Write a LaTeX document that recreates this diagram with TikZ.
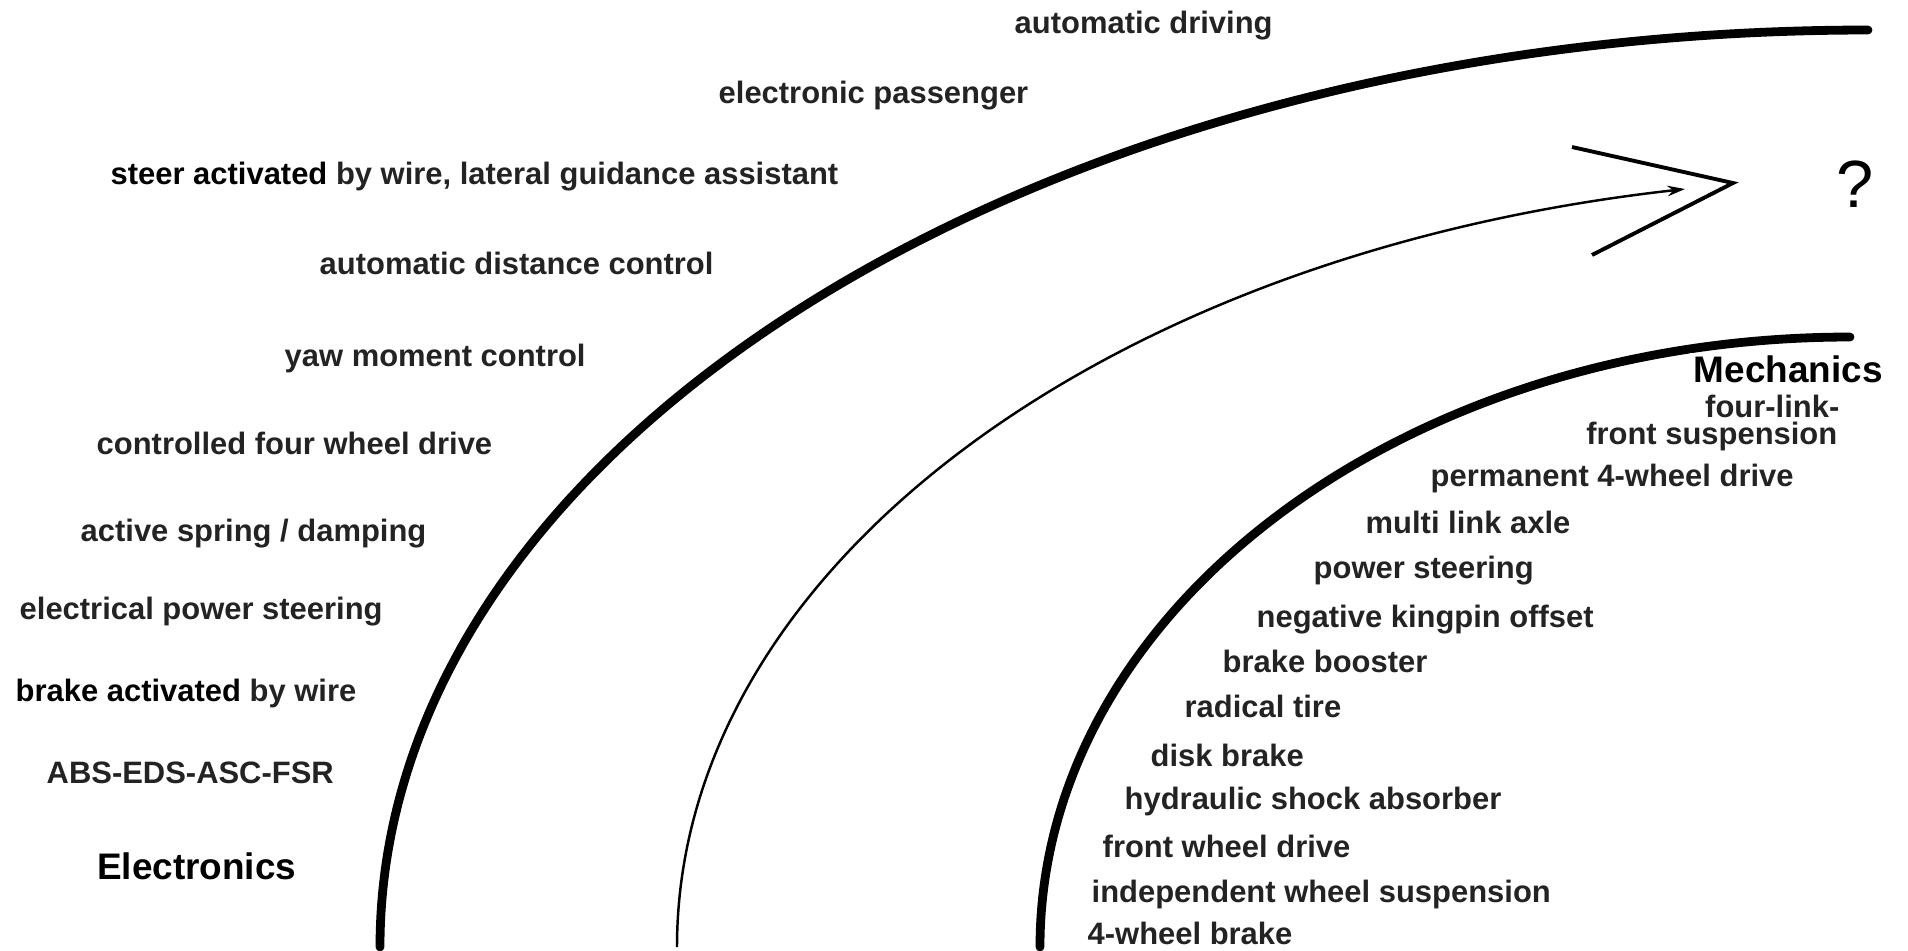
\documentclass[tikz,border=0pt]{standalone}
\usepackage{fontspec}
\setmainfont{Liberation Sans}
\usepackage{tikz}
\usetikzlibrary{arrows.meta}
\usepackage{xcolor}
\definecolor{ColText}{RGB}{35,35,35}
\tikzstyle{Item}=[anchor=west,inner sep=0pt,text height=0.72em,text depth=0.2em,
text=ColText,font=\bfseries\fontsize{8.8pt}{10pt}\selectfont]
\tikzstyle{ItemRight}=[Item,anchor=east]
\tikzstyle{Title}=[inner sep=1pt,text height=0.72em,text depth=0.2em,
font=\bfseries\fontsize{10.5pt}{12pt}\selectfont]
\tikzstyle{CurveThick}=[line width=2.5pt,line cap=round]
\tikzstyle{CurveThin}=[line width=0.7pt]
\tikzstyle{Chevron}=[line width=1.1pt]

\begin{document}
\begin{tikzpicture}[x=0.01cm,y=-0.01cm]
        \useasboundingbox (0,0) rectangle (1908,950);
        % electronics
        \coordinate(elecLow)at(380,947);
        \coordinate(elecHigh)at(1868,30);
        \draw[CurveThick](elecLow)..controls(380,441)and(1046,30)..(elecHigh);
        \node[Item](autoDriving)at(1014,24){automatic driving};
        \node[Item](elPassenger)at(718,94){electronic passenger};
        \node[Item](steerWire)at(110,175){{\color{black}steer activated} by wire, lateral guidance assistant};
        \node[Item](distControl)at(319,265){automatic distance control};
        \node[Item](yawControl)at(284,357){yaw moment control};
        \node[Item](fourWheel)at(96,445){controlled four wheel drive};
        \node[Item](activeSpring)at(80,532){active spring / damping};
        \node[Item](elSteering)at(19,610){electrical power steering};
        \node[Item](brakeWire)at(15,692){{\color{black}brake activated} by wire};
        \node[Item](abs)at(46,774){ABS-EDS-ASC-FSR};
        \node[Title,anchor=west](electronics)at(93,870){Electronics};
        % trend arrow
        \coordinate(trendStart)at(677,947);
        \coordinate(trendEnd)at(1685,189);
        \draw[CurveThin,-{Stealth[length=5pt,width=3pt]}](trendStart)..controls(677,571)and(1101,254)..(trendEnd);
        \coordinate(chevTop)at(1572,147);
        \coordinate(chevTip)at(1733,183);
        \coordinate(chevBot)at(1592,255);
        \draw[Chevron](chevTop)--(chevTip)--(chevBot);
        \node[inner sep=0pt,font=\fontsize{19pt}{22pt}\selectfont](question)at(1855,184){?};
        % mechanics
        \coordinate(mechLow)at(1040,947);
        \coordinate(mechHigh)at(1850,337);
        \draw[CurveThick](mechLow)..controls(1040,610)and(1403,337)..(mechHigh);
        \node[Title,anchor=east,fill=white](mechanics)at(1887,373){Mechanics};
        \node[ItemRight](fourLink)at(1840,408){four-link-};
        \node[ItemRight](frontSusp)at(1838,435){front suspension};
        \node[Item](perm4wd)at(1430,477){permanent 4-wheel drive};
        \node[Item](multiLink)at(1365,524){multi link axle};
        \node[Item](powerSteering)at(1313,569){power steering};
        \node[Item](kingpin)at(1256,618){negative kingpin offset};
        \node[Item](brakeBooster)at(1222,663){brake booster};
        \node[Item](radialTire)at(1184,708){radical tire};
        \node[Item](diskBrake)at(1150,757){disk brake};
        \node[Item](shockAbs)at(1124,800){hydraulic shock absorber};
        \node[Item](fwd)at(1102,848){front wheel drive};
        \node[Item](indepSusp)at(1091,893){independent wheel suspension};
        \node[Item](brake4w)at(1087,935){4-wheel brake};
    \end{tikzpicture}
\end{document}
